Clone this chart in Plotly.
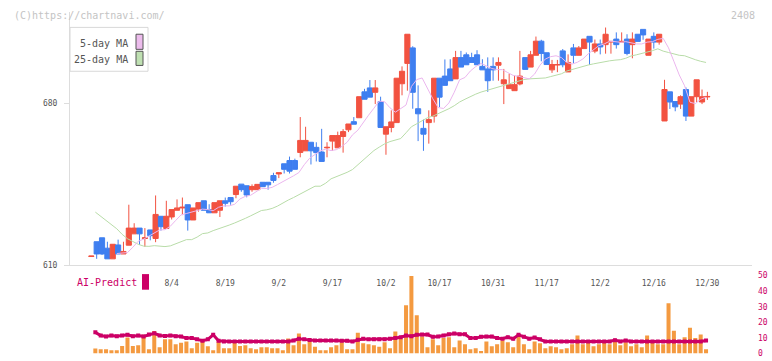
import plotly.graph_objects as go

# ---------------- data ----------------
dates = [
    "2025-07-11", "2025-07-14", "2025-07-15", "2025-07-16", "2025-07-17", "2025-07-18",
    "2025-07-22", "2025-07-23", "2025-07-24", "2025-07-25", "2025-07-28", "2025-07-29",
    "2025-07-30", "2025-07-31", "2025-08-01", "2025-08-04", "2025-08-05", "2025-08-06",
    "2025-08-07", "2025-08-08", "2025-08-12", "2025-08-13", "2025-08-14", "2025-08-15",
    "2025-08-18", "2025-08-19", "2025-08-20", "2025-08-21", "2025-08-22", "2025-08-25",
    "2025-08-26", "2025-08-27", "2025-08-28", "2025-08-29", "2025-09-01", "2025-09-02",
    "2025-09-03", "2025-09-04", "2025-09-05", "2025-09-08", "2025-09-09", "2025-09-10",
    "2025-09-11", "2025-09-12", "2025-09-16", "2025-09-17", "2025-09-18", "2025-09-19",
    "2025-09-22", "2025-09-24", "2025-09-25", "2025-09-26", "2025-09-29", "2025-09-30",
    "2025-10-01", "2025-10-02", "2025-10-03", "2025-10-06", "2025-10-07", "2025-10-08",
    "2025-10-09", "2025-10-10", "2025-10-14", "2025-10-15", "2025-10-16", "2025-10-17",
    "2025-10-20", "2025-10-21", "2025-10-22", "2025-10-23", "2025-10-24", "2025-10-27",
    "2025-10-28", "2025-10-29", "2025-10-30", "2025-10-31", "2025-11-04", "2025-11-05",
    "2025-11-06", "2025-11-07", "2025-11-10", "2025-11-11", "2025-11-12", "2025-11-13",
    "2025-11-14", "2025-11-17", "2025-11-18", "2025-11-19", "2025-11-20", "2025-11-21",
    "2025-11-25", "2025-11-26", "2025-11-27", "2025-11-28", "2025-12-01", "2025-12-02",
    "2025-12-03", "2025-12-04", "2025-12-05", "2025-12-08", "2025-12-09", "2025-12-10",
    "2025-12-11", "2025-12-12", "2025-12-15", "2025-12-16", "2025-12-17", "2025-12-18",
    "2025-12-19", "2025-12-22", "2025-12-23", "2025-12-24", "2025-12-25", "2025-12-26",
    "2025-12-29", "2025-12-30",
]

open_ = [
    613.8, 620.2, 621.9, 617.4, 612.8, 618.8, 614.9, 618.7, 623.6, 626.1,
    621.6, 625.3, 621.6, 631.2, 625.9, 630.9, 633.8, 634.8, 636.2, 629.6,
    634.3, 637.9, 634.1, 632.7, 633.8, 637.9, 639.3, 640.6, 645.1, 644.4,
    642.7, 642.7, 645.9, 645.9, 648.8, 649.5, 653.9, 655.3, 655.3, 658.8,
    659.5, 663.2, 661.0, 659.0, 660.8, 663.7, 660.8, 665.7, 668.6, 672.1,
    673.8, 685.0, 686.7, 684.8, 680.8, 666.7, 669.6, 671.7, 688.5, 697.3,
    704.0, 677.7, 669.2, 671.7, 674.5, 690.9, 691.8, 694.9, 690.6, 699.8,
    701.0, 699.8, 701.0, 696.0, 694.9, 696.0, 696.5, 688.5, 686.4, 685.5,
    688.4, 699.8, 695.7, 700.8, 706.9, 701.9, 694.5, 696.6, 702.7, 693.6,
    704.0, 700.8, 703.7, 709.0, 702.6, 705.7, 705.4, 706.5, 707.8, 706.5,
    707.8, 705.4, 709.9, 712.0, 700.8, 709.0, 706.5, 672.4, 685.0, 680.8,
    679.7, 686.0, 674.5, 682.9, 680.6, 682.8,
]
high = [
    614.0, 620.2, 621.9, 620.2, 619.1, 621.1, 620.2, 636.2, 628.2, 626.1,
    626.1, 625.3, 640.2, 631.2, 637.9, 634.1, 638.5, 639.3, 636.2, 634.8,
    637.1, 637.9, 636.4, 637.1, 637.9, 639.3, 639.3, 644.2, 645.1, 644.4,
    645.0, 645.0, 645.9, 645.9, 650.0, 650.0, 653.9, 657.0, 656.1, 674.1,
    669.9, 663.2, 663.2, 669.0, 663.2, 666.1, 667.8, 668.9, 671.1, 674.1,
    682.9, 686.3, 690.1, 690.1, 682.9, 669.9, 677.0, 690.9, 696.0, 709.9,
    704.7, 687.8, 673.0, 677.0, 690.9, 690.9, 699.0, 699.1, 702.7, 702.7,
    702.0, 701.9, 703.0, 699.1, 699.9, 699.9, 699.9, 694.9, 692.8, 692.0,
    702.7, 699.8, 702.7, 708.9, 707.5, 701.9, 698.8, 698.8, 703.5, 701.2,
    705.7, 704.8, 707.8, 709.0, 707.6, 707.6, 712.8, 706.8, 710.7, 710.7,
    709.9, 710.7, 709.9, 712.0, 707.8, 710.7, 709.9, 690.2, 685.0, 680.8,
    683.5, 686.9, 682.9, 690.2, 686.0, 685.0,
]
low = [
    613.8, 612.8, 614.5, 612.8, 612.8, 614.9, 614.9, 618.7, 623.6, 618.8,
    618.0, 620.8, 620.0, 625.0, 625.9, 629.8, 633.8, 631.7, 625.0, 629.6,
    633.2, 633.8, 632.7, 632.7, 630.9, 635.4, 636.2, 639.0, 641.8, 639.4,
    641.8, 642.7, 644.0, 642.7, 645.7, 647.7, 649.7, 649.7, 651.5, 656.7,
    659.5, 653.6, 654.9, 654.9, 656.7, 659.5, 660.8, 658.7, 667.6, 671.0,
    673.8, 681.8, 682.7, 679.7, 669.6, 657.8, 667.5, 671.7, 683.5, 685.5,
    677.7, 663.7, 659.5, 662.6, 671.7, 678.4, 687.8, 689.8, 690.6, 695.7,
    696.7, 697.7, 696.7, 694.5, 685.0, 689.8, 689.8, 679.7, 686.4, 685.5,
    687.8, 694.7, 695.7, 700.8, 698.2, 696.8, 693.2, 693.5, 695.6, 693.6,
    697.3, 700.8, 703.7, 696.6, 701.7, 701.2, 701.5, 701.5, 703.7, 706.5,
    700.8, 699.5, 706.8, 707.5, 700.8, 703.7, 705.4, 672.4, 677.6, 676.6,
    677.6, 672.4, 674.5, 680.6, 679.7, 681.5,
]
close = [
    614.0, 614.9, 614.9, 612.8, 619.1, 614.9, 616.0, 626.1, 626.1, 623.6,
    621.9, 622.8, 632.0, 626.7, 631.2, 634.1, 634.8, 635.1, 629.6, 634.8,
    637.1, 633.8, 632.7, 637.1, 637.9, 636.8, 637.5, 644.2, 642.7, 640.4,
    644.1, 645.0, 644.0, 644.8, 646.7, 650.0, 651.5, 650.7, 651.5, 664.0,
    664.0, 659.5, 658.7, 654.9, 661.0, 666.1, 666.1, 667.8, 671.1, 671.0,
    682.9, 681.8, 682.7, 686.7, 669.6, 669.9, 672.0, 690.9, 693.9, 709.9,
    684.8, 675.5, 666.7, 673.0, 690.9, 682.7, 687.8, 689.8, 699.8, 695.7,
    696.7, 697.7, 696.7, 694.5, 689.8, 694.5, 697.7, 690.2, 688.1, 688.1,
    691.8, 694.7, 701.0, 706.9, 701.6, 696.8, 696.8, 696.8, 696.7, 697.7,
    700.8, 704.0, 707.8, 706.5, 705.7, 704.4, 709.9, 706.8, 705.4, 706.8,
    701.6, 707.8, 706.8, 709.6, 707.8, 706.5, 709.9, 686.0, 680.6, 678.5,
    682.9, 674.5, 682.9, 690.2, 682.9, 683.0,
]

# moving averages, volume and AI-Predict (115 sessions, Jul 11 - Dec 29)
ma5 = [
    None, None, None, None, 615.1, 615.3, 615.5, 617.8, 620.4, 621.3,
    622.7, 624.1, 625.3, 625.4, 626.9, 629.4, 631.8, 632.4, 633.0, 633.7,
    634.3, 634.1, 633.6, 635.1, 635.7, 635.7, 636.4, 638.7, 639.8, 640.3,
    641.8, 643.3, 643.2, 643.7, 644.9, 646.1, 647.4, 648.7, 650.1, 653.5,
    656.3, 657.9, 659.5, 660.2, 659.6, 660.0, 661.4, 663.2, 666.4, 668.4,
    671.8, 674.9, 677.9, 681.0, 680.7, 678.1, 676.2, 677.8, 679.3, 687.3,
    690.3, 691.0, 686.2, 682.0, 678.2, 677.8, 680.2, 684.8, 690.2, 691.2,
    694.0, 695.9, 697.3, 696.3, 695.1, 694.6, 694.6, 693.3, 692.1, 691.7,
    691.2, 690.6, 692.7, 696.5, 699.2, 700.2, 700.6, 699.8, 697.7, 697.0,
    697.8, 699.2, 701.4, 703.4, 705.0, 705.7, 706.9, 706.7, 706.4, 706.7,
    706.1, 705.7, 705.7, 706.5, 706.7, 707.7, 708.1, 704.0, 698.2, 692.3,
    687.6, 680.5, 679.9, 681.8, 682.7,
]
ma25 = [
    633.0, 631.2, 629.0, 627.2, 625.8, 623.4, 621.5, 620.3, 619.1, 618.3,
    618.2, 618.5, 618.3, 618.1, 618.4, 619.3, 620.3, 621.1, 621.1, 622.2,
    623.7, 624.0, 625.0, 625.7, 626.5, 627.4, 628.3, 629.2, 630.3, 631.4,
    632.4, 633.7, 634.0, 634.6, 635.6, 637.0, 638.2, 639.3, 640.5, 641.6,
    643.0, 644.2, 644.2, 645.5, 647.4, 648.3, 649.2, 650.2, 651.4, 653.5,
    655.5, 657.8, 659.6, 661.1, 662.5, 663.5, 664.2, 664.8, 667.3, 669.9,
    671.2, 672.6, 673.8, 674.5, 675.5, 676.6, 677.7, 679.0, 680.6, 681.8,
    683.0, 684.0, 684.9, 685.6, 686.2, 686.9, 687.6, 688.2, 688.9, 689.6,
    690.3, 690.6, 690.8, 690.9, 691.0, 691.6, 692.1, 692.8, 694.0, 694.7,
    695.4, 696.0, 696.6, 697.1, 697.6, 697.9, 698.4, 698.7, 698.9, 699.5,
    700.5, 701.0, 701.6, 702.0, 702.8, 703.6, 702.6, 702.0, 701.3, 700.8,
    700.6, 699.6, 698.9, 698.2, 697.7,
]
volume = [
    3.2, 2.8, 2.8, 2.2, 2.2, 4.9, 10.3, 4.9, 5.3, 12.0,
    2.8, 14.5, 4.1, 9.1, 9.1, 5.9, 7.0, 7.8, 3.4, 7.0,
    7.8, 4.7, 2.2, 7.6, 3.4, 3.4, 7.2, 4.9, 5.3, 3.4,
    2.8, 4.1, 4.1, 3.4, 3.4, 2.2, 9.7, 5.3, 12.8, 5.9,
    7.8, 4.3, 2.2, 2.2, 4.1, 5.3, 7.2, 2.8, 2.8, 13.4,
    6.6, 5.9, 5.3, 4.3, 7.2, 3.4, 14.1, 9.5, 30.9, 49.7,
    24.5, 10.9, 4.1, 9.1, 5.3, 9.9, 10.5, 4.0, 8.4, 5.9,
    2.8, 3.4, 1.6, 7.8, 4.7, 5.9, 8.4, 7.2, 4.1, 12.6,
    5.9, 2.8, 7.8, 6.6, 3.4, 4.7, 4.1, 2.8, 3.4, 5.9,
    11.6, 5.9, 7.2, 4.7, 5.9, 7.2, 5.9, 7.8, 5.3, 7.2,
    4.7, 5.9, 4.1, 11.6, 7.2, 5.9, 5.9, 32.2, 14.7, 5.9,
    10.5, 16.5, 9.9, 12.2, 2.8,
]
ai_predict = [
    13.6, 11.6, 10.9, 11.6, 11.1, 11.6, 12.0, 11.1, 11.6, 10.9,
    12.2, 13.0, 11.6, 11.3, 11.6, 11.1, 10.9, 9.9, 9.9, 9.1,
    8.2, 9.1, 12.0, 8.2, 7.8, 7.8, 7.8, 7.8, 7.8, 7.8,
    7.8, 7.8, 7.8, 7.8, 7.8, 7.8, 7.8, 8.4, 9.5, 9.1,
    8.7, 8.4, 8.4, 8.4, 8.4, 8.4, 8.2, 8.2, 7.8, 8.8,
    9.5, 9.1, 9.1, 9.1, 9.1, 9.5, 10.0, 10.5, 11.6, 11.1,
    12.0, 12.2, 12.2, 10.7, 10.9, 11.6, 12.4, 12.8, 12.4, 12.4,
    9.9, 9.9, 10.7, 10.9, 10.9, 9.9, 9.5, 10.5, 9.5, 12.0,
    10.7, 9.5, 10.3, 9.1, 7.8, 7.8, 7.8, 7.8, 7.8, 7.8,
    7.8, 7.8, 7.8, 7.8, 7.8, 7.8, 7.8, 8.6, 7.8, 8.4,
    7.8, 7.8, 7.8, 7.8, 7.8, 7.8, 7.8, 7.8, 7.8, 7.8,
    7.8, 7.8, 7.8, 7.8, 8.4,
]
sub_dates = dates[:len(volume)]

tick_dates = ["2025-08-04", "2025-08-19", "2025-09-02", "2025-09-17", "2025-10-02",
              "2025-10-17", "2025-10-31", "2025-11-17", "2025-12-02", "2025-12-16",
              "2025-12-30"]
tick_labels = ["8/4", "8/19", "9/2", "9/17", "10/2", "10/17", "10/31", "11/17",
               "12/2", "12/16", "12/30"]
price_ticks = [610, 680]
volume_ticks = [0, 10, 20, 30, 40, 50]

# ---------------- styling / layout helpers ----------------
W, H = 772, 361
MONO = "DejaVu Sans Mono"
RED = "#f25240"
BLUE = "#3f7ff0"
PINK = "#ebb6ee"
GREEN = "#b8dca8"
ORANGE = "#f49a40"
MAGENTA = "#cc0066"
GRID = "#dddddd"


def fx(p):
    return p / W


def fy(p):
    return 1 - p / H


X_DOM = [fx(70), fx(752)]
X_RANGE = [-3.98, 123.33]
SHIFT = 0.75

fig = go.Figure()

fig.add_trace(go.Candlestick(
    x=dates, open=open_, high=high, low=low, close=close,
    increasing=dict(line=dict(color=RED, width=1), fillcolor=RED),
    decreasing=dict(line=dict(color=BLUE, width=1), fillcolor=BLUE),
    whiskerwidth=0, xaxis="x", yaxis="y", hoverinfo="skip", name="price",
))
fig.add_trace(go.Scatter(x=sub_dates, y=ma25, mode="lines", line=dict(color=GREEN, width=1),
                         xaxis="x2", yaxis="y", name="25-day MA", hoverinfo="skip"))
fig.add_trace(go.Scatter(x=sub_dates, y=ma5, mode="lines", line=dict(color=PINK, width=1),
                         xaxis="x2", yaxis="y", name="5-day MA", hoverinfo="skip"))
fig.add_trace(go.Bar(x=sub_dates, y=volume, marker=dict(color=ORANGE, line=dict(width=0)),
                     width=0.75, xaxis="x2", yaxis="y2", name="volume", hoverinfo="skip"))
fig.add_trace(go.Scatter(x=sub_dates, y=ai_predict, mode="lines+markers",
                         line=dict(color=MAGENTA, width=3),
                         marker=dict(symbol="square", size=4, color=MAGENTA),
                         xaxis="x2", yaxis="y2", name="AI-Predict", hoverinfo="skip"))

shapes = [
    # legend box
    dict(type="rect", xref="paper", yref="paper", x0=fx(70), x1=fx(148), y0=fy(24), y1=fy(69),
         line=dict(color="#d8d8d8", width=1), fillcolor="white", layer="above"),
    dict(type="rect", xref="paper", yref="paper", x0=fx(136), x1=fx(143), y0=fy(31), y1=fy(46.5),
         line=dict(color="#555555", width=1), fillcolor="#ecbcec", layer="above"),
    dict(type="rect", xref="paper", yref="paper", x0=fx(136), x1=fx(143), y0=fy(48.5), y1=fy(63),
         line=dict(color="#555555", width=1), fillcolor="#bfe0b2", layer="above"),
    # AI-Predict marker
    dict(type="rect", xref="paper", yref="paper", x0=fx(142), x1=fx(149), y0=fy(277), y1=fy(293),
         line=dict(width=0), fillcolor=MAGENTA, layer="above"),
]

annotations = [
    dict(text="(C)https://chartnavi.com/", xref="paper", yref="paper", x=fx(12), y=fy(12),
         xanchor="left", yanchor="middle", showarrow=False,
         font=dict(family=MONO, size=10, color="#c4c4c4")),
    dict(text="2408", xref="paper", yref="paper", x=fx(757), y=fy(12),
         xanchor="right", yanchor="middle", showarrow=False,
         font=dict(family=MONO, size=10, color="#c4c4c4")),
    dict(text="5-day MA", xref="paper", yref="paper", x=fx(130), y=fy(40),
         xanchor="right", yanchor="middle", showarrow=False,
         font=dict(family=MONO, size=10, color="#555555")),
    dict(text="25-day MA", xref="paper", yref="paper", x=fx(130), y=fy(56.5),
         xanchor="right", yanchor="middle", showarrow=False,
         font=dict(family=MONO, size=10, color="#555555")),
    dict(text="AI-Predict", xref="paper", yref="paper", x=fx(75), y=fy(285.5),
         xanchor="left", yanchor="middle", showarrow=False,
         font=dict(family=MONO, size=10, color=MAGENTA)),
]

fig.update_layout(
    width=W, height=H, autosize=False,
    margin=dict(l=0, r=0, t=0, b=0),
    paper_bgcolor="white", plot_bgcolor="rgba(0,0,0,0)",
    showlegend=False, boxgap=0.04, boxgroupgap=0, bargap=0.25,
    font=dict(family=MONO, size=8, color="#555555"),
    shapes=shapes, annotations=annotations,
    xaxis=dict(type="category", domain=X_DOM, range=X_RANGE, anchor="y",
               showline=True, linecolor=GRID, linewidth=1, ticks="",
               tickmode="array", tickvals=tick_dates, ticktext=tick_labels,
               tickfont=dict(family=MONO, size=8, color="#555555"),
               ticklabelstandoff=10, showgrid=False, zeroline=False,
               rangeslider=dict(visible=False)),
    xaxis2=dict(type="category", range=[X_RANGE[0] - SHIFT, X_RANGE[1] - SHIFT],
                anchor="y2", overlaying="x", visible=False),
    xaxis3=dict(range=[0, 11], anchor="y", overlaying="x", side="bottom",
                ticks="outside", ticklen=5, tickcolor=GRID, tickwidth=1,
                tickmode="linear", tick0=0, dtick=1, showticklabels=False,
                showgrid=False, zeroline=False, showline=False),
    xaxis4=dict(range=[0, 11], anchor="y", overlaying="x", side="bottom",
                ticks="inside", ticklen=3, tickcolor=GRID, tickwidth=1,
                tickmode="linear", tick0=0, dtick=1, showticklabels=False,
                showgrid=False, zeroline=False, showline=False),
    yaxis=dict(domain=[fy(268), fy(8)], range=[610, 719.6], anchor="x",
               showline=True, linecolor=GRID, linewidth=1,
               ticks="outside", ticklen=5, tickcolor=GRID,
               tickmode="array", tickvals=price_ticks, ticklabelstandoff=5,
               tickfont=dict(family=MONO, size=8, color="#555555"),
               showgrid=False, zeroline=False),
    yaxis2=dict(domain=[fy(358.5), fy(278.5)], range=[0, 50], anchor="x2", side="right",
                tickmode="array", tickvals=volume_ticks, ticks="", ticklabelstandoff=5,
                tickfont=dict(family=MONO, size=8, color=MAGENTA),
                showgrid=False, zeroline=False, showline=False),
)

fig.write_html("out.html", config={"displayModeBar": False},
               post_script="document.body.style.margin='0';document.body.style.overflow='hidden';")
